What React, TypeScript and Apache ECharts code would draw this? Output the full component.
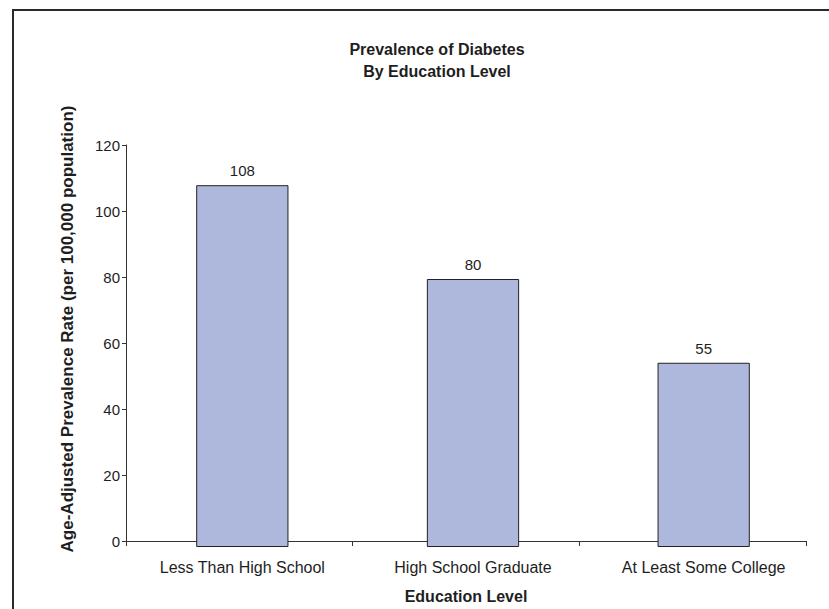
import React, { useEffect, useRef } from "react";
import * as echarts from "echarts";

const categories = ["Less Than High School", "High School Graduate", "At Least Some College"];
const prevalence = [108, 80, 55];
const yTicks = { min: 0, max: 120, interval: 20 };

const FONT = "'Liberation Sans', Arial, sans-serif";
const INK = "#1e1e1e";

export default function App() {
  const ref = useRef<HTMLDivElement>(null);

  useEffect(() => {
    if (!ref.current) return;
    const chart = echarts.init(ref.current, null, { renderer: "svg" });

    const hiddenY = {
      type: "value",
      min: yTicks.min,
      max: yTicks.max,
      interval: yTicks.interval,
      show: false,
    };

    chart.setOption({
      animation: false,
      backgroundColor: "#fff",
      textStyle: { fontFamily: FONT },
      title: {
        text: "Prevalence of Diabetes\nBy Education Level",
        left: 432,
        top: 33,
        textAlign: "center",
        textStyle: { fontFamily: FONT, fontSize: 16, fontWeight: "bold", color: INK, lineHeight: 22 },
      },
      graphic: [
        {
          type: "rect",
          shape: { x: 13, y: 10, width: 900, height: 800 },
          style: { fill: "none", stroke: "#2a2a2a", lineWidth: 2 },
          silent: true,
        },
        {
          type: "text",
          x: 67,
          y: 329,
          rotation: Math.PI / 2,
          style: {
            text: "Age-Adjusted Prevalence Rate (per 100,000 population)",
            fontFamily: FONT,
            fontSize: 17,
            fontWeight: "bold",
            fill: INK,
            align: "center",
            verticalAlign: "middle",
          },
        },
      ],
      grid: [
        { left: 126, right: 23, top: 145, bottom: 62 },
        { left: 127, width: 692, top: 145, bottom: 62 },
      ],
      xAxis: [
        {
          type: "category",
          gridIndex: 0,
          data: categories,
          boundaryGap: true,
          axisLine: { lineStyle: { color: "#333", width: 1 } },
          axisTick: { show: true, length: 5, lineStyle: { color: "#333" } },
          axisLabel: { show: false },
          name: "Education Level",
          nameLocation: "middle",
          nameGap: 47,
          nameTextStyle: { fontFamily: FONT, fontSize: 16, fontWeight: "bold", color: INK },
        },
        {
          type: "category",
          gridIndex: 1,
          data: categories,
          axisLine: { show: false },
          axisTick: { show: false },
          axisLabel: { fontFamily: FONT, fontSize: 16, color: INK, margin: 12 },
        },
      ],
      yAxis: [
        {
          type: "value",
          gridIndex: 0,
          min: yTicks.min,
          max: yTicks.max,
          interval: yTicks.interval,
          axisLine: { show: true, lineStyle: { color: "#333", width: 1 } },
          axisTick: { show: true, length: 4, lineStyle: { color: "#333" } },
          axisLabel: { fontFamily: FONT, fontSize: 15, color: INK, margin: 6 },
          splitLine: { show: false },
        },
        { ...hiddenY, gridIndex: 1 },
      ],
      series: [
        {
          type: "bar",
          xAxisIndex: 1,
          yAxisIndex: 1,
          data: prevalence,
          barWidth: "40%",
          itemStyle: { color: "#aeb8dc", borderColor: "#222", borderWidth: 1 },
          label: {
            show: true,
            position: "top",
            distance: 7,
            fontFamily: FONT,
            fontSize: 15,
            color: INK,
          },
        },
      ],
    });

    return () => chart.dispose();
  }, []);

  return (
    <div
      ref={ref}
      style={{ position: "fixed", left: 0, top: 0, width: 829, height: 609 }}
    />
  );
}
